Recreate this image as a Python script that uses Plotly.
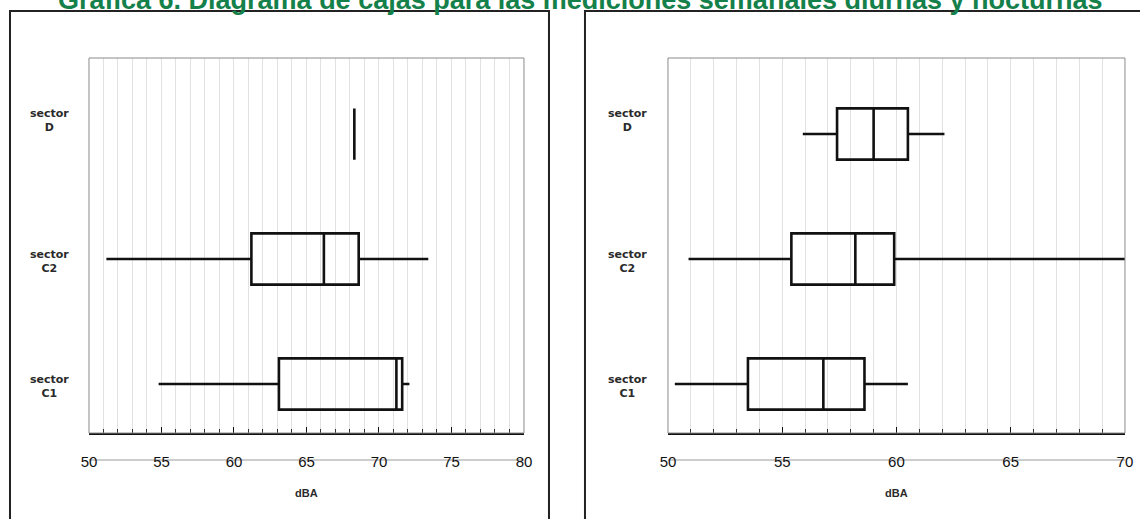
import plotly.graph_objects as go

# ---- data ----
categories = ["sector C1", "sector C2", "sector D"]
cat_labels = ["sector<br>C1", "sector<br>C2", "sector<br>D"]

# left panel (diurnas)
left_low = [54.8, 51.2, 68.3]
left_q1 = [63.1, 61.2, 68.3]
left_med = [71.2, 66.2, 68.3]
left_q3 = [71.6, 68.6, 68.3]
left_high = [72.1, 73.4, 68.3]

# right panel (nocturnas)
right_low = [50.3, 50.9, 55.9]
right_q1 = [53.5, 55.4, 57.4]
right_med = [56.8, 58.2, 59.0]
right_q3 = [58.6, 59.9, 60.5]
right_high = [60.5, 70.0, 62.1]

title_text = "Gráfica 6. Diagrama de cajas para las mediciones semanales diurnas y nocturnas"
x_title = "dBA"

W, H = 1140, 519

def px_x(p):
    # horizontal pixel target -> paper fraction (compensated)
    return ((p - 8) / 0.986) / W

def px_y(p):
    return 1 - p / H

fig = go.Figure()

for (low, q1, med, q3, high, xa, ya) in [
    (left_low, left_q1, left_med, left_q3, left_high, "x", "y"),
    (right_low, right_q1, right_med, right_q3, right_high, "x2", "y2"),
]:
    fig.add_trace(go.Box(
        y=categories, q1=q1, median=med, q3=q3,
        lowerfence=low, upperfence=high,
        orientation="h", xaxis=xa, yaxis=ya,
        width=0.41, whiskerwidth=0,
        line=dict(color="#111111", width=2.6),
        fillcolor="rgba(0,0,0,0)",
        boxpoints=False, showlegend=False, hoverinfo="skip",
    ))

grid_col = "#e2e2e2"
ydom = [px_y(433), px_y(58)]

def xaxis_cfg(dom, rng):
    return dict(
        domain=dom, range=rng, dtick=5, tick0=50,
        showline=True, linecolor="#111111", linewidth=1.5,
        ticks="inside", ticklen=6, tickwidth=1.2, tickcolor="#111111",
        showgrid=True, gridcolor=grid_col, gridwidth=1,
        minor=dict(dtick=1, ticks="inside", ticklen=4, tickcolor="#333333",
                   showgrid=True, gridcolor=grid_col, gridwidth=1),
        zeroline=False, fixedrange=True,
        tickfont=dict(family="Liberation Sans, Arial", size=15, color="#111111"),
        ticklabelstandoff=14,
    )

def yaxis_cfg(anchor):
    return dict(
        domain=ydom, anchor=anchor, type="category",
        categoryorder="array", categoryarray=categories,
        range=[-0.392, 2.608], showticklabels=False, ticks="",
        showgrid=False, zeroline=False, showline=False, fixedrange=True,
    )

fig.update_layout(
    width=W, height=H,
    margin=dict(l=0, r=0, t=0, b=0),
    paper_bgcolor="white", plot_bgcolor="white",
    xaxis=dict(anchor="y", **xaxis_cfg([px_x(89), px_x(524)], [50, 80])),
    yaxis=yaxis_cfg("x"),
    xaxis2=dict(anchor="y2", **xaxis_cfg([px_x(668), min(1.0, px_x(1125))], [50, 70])),
    yaxis2=yaxis_cfg("x2"),
    showlegend=False,
)

shapes = []
for xr, yr in [("x domain", "y domain"), ("x2 domain", "y2 domain")]:
    shapes.append(dict(type="rect", xref=xr, yref=yr, x0=0, x1=1, y0=0, y1=1,
                       line=dict(color="#8a8a8a", width=1), layer="above"))
    shapes.append(dict(type="line", xref=xr, yref="paper", x0=0, x1=1,
                       y0=px_y(460), y1=px_y(460),
                       line=dict(color="#9a9a9a", width=1), layer="below"))
shapes.append(dict(type="rect", xref="paper", yref="paper",
                   x0=px_x(10), x1=px_x(549), y0=-0.1, y1=px_y(11),
                   line=dict(color="#222222", width=2)))
shapes.append(dict(type="rect", xref="paper", yref="paper",
                   x0=px_x(585), x1=1.1, y0=-0.1, y1=px_y(11),
                   line=dict(color="#222222", width=2)))
fig.update_layout(shapes=shapes)

annotations = []
lab_font = dict(family="DejaVu Sans, Arial", size=11, color="#2a2a2a")
for xr, yr, xc in [("x domain", "y", -0.09), ("x2 domain", "y2", -0.0875)]:
    for cat, lab in zip(categories, cat_labels):
        annotations.append(dict(
            xref=xr, yref=yr, x=xc, y=cat, text="<b>" + lab + "</b>",
            showarrow=False, xanchor="center", yanchor="middle", align="center",
            font=lab_font, yshift=(14 if cat == "sector D" else -2),
        ))
    annotations.append(dict(
        xref=xr, yref="paper", x=0.5, y=px_y(493), text="<b>" + x_title + "</b>",
        showarrow=False, xanchor="center", yanchor="middle",
        font=dict(family="Liberation Sans, Arial", size=11, color="#2a2a2a"),
    ))
annotations.append(dict(
    xref="paper", yref="paper", x=px_x(580), y=px_y(17), text="<b>" + title_text + "</b>",
    showarrow=False, xanchor="center", yanchor="bottom",
    font=dict(family="Liberation Sans, Arial", size=27, color="#14804a"),
))
fig.update_layout(annotations=annotations)

fig.write_html(
    "out.html",
    config={"displayModeBar": False},
    post_script="document.body.style.margin='0';document.body.style.overflow='hidden';",
)
